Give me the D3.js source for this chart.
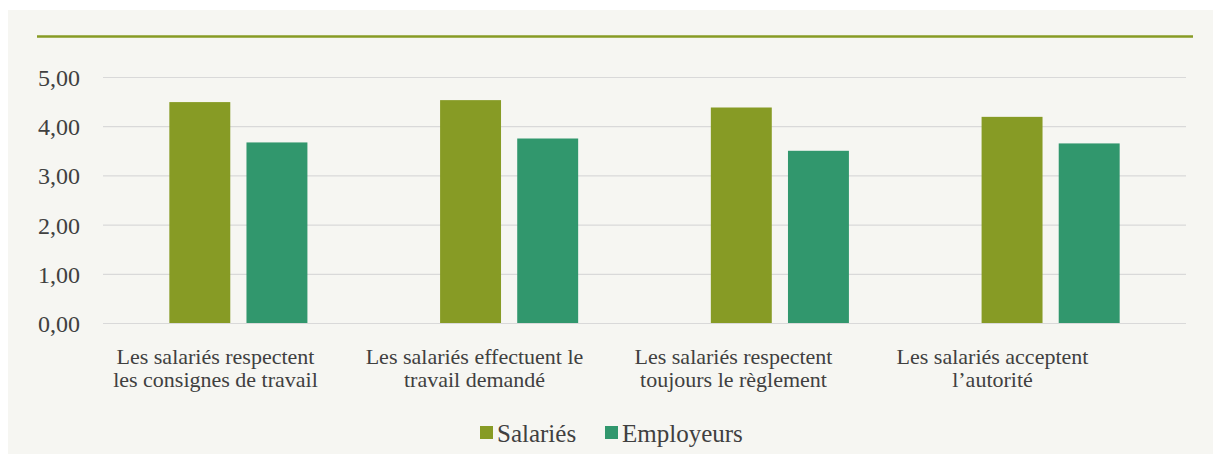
<!DOCTYPE html>
<html>
<head>
<meta charset="utf-8">
<script src="https://d3js.org/d3.v7.min.js"></script>
<style>
  body { margin: 0; background: #fff; }
  svg { display: block; }
</style>
</head>
<body>
<svg id="chart" width="1213" height="454"></svg>
<script>
// data
const categories = [
  ["Les salariés respectent", "les consignes de travail"],
  ["Les salariés effectuent le", "travail demandé"],
  ["Les salariés respectent", "toujours le règlement"],
  ["Les salariés acceptent", "l\u2019autorité"]
];
const seriesNames = ["Salariés", "Employeurs"];
const salaries = [4.49, 4.53, 4.38, 4.19];
const employeurs = [3.67, 3.75, 3.50, 3.65];
const yTicks = [0, 1, 2, 3, 4, 5];
const colors = ["#879b25", "#31976d"];

const serif = "Liberation Serif";
const ink = "#404040";

const svg = d3.select("#chart").attr("font-family", serif);
const W = 1213, H = 454;

// paper background
svg.append("rect").attr("x", 8).attr("y", 10).attr("width", W - 8).attr("height", H - 10)
  .attr("fill", "#f6f6f2");

// green rule at the top
svg.append("line").attr("x1", 37).attr("x2", 1193).attr("y1", 36.5).attr("y2", 36.5)
  .attr("stroke", "#879b25").attr("stroke-width", 2.5);

const plot = { left: 103, right: 1186, top: 77, bottom: 323 };

const y = d3.scaleLinear().domain([0, 5]).range([plot.bottom, plot.top]);
const x0 = d3.scaleBand().domain(d3.range(categories.length)).range([plot.left, plot.right]);
const x1 = d3.scaleBand().domain(seriesNames).range([0, x0.bandwidth()])
  .paddingInner(0.21).paddingOuter(0.86);
const color = d3.scaleOrdinal().domain(seriesNames).range(colors);

// gridlines + tick labels
const yAxis = d3.axisLeft(y).tickValues(yTicks)
  .tickSize(-(plot.right - plot.left))
  .tickFormat(d => d3.format(".2f")(d).replace(".", ","));
const gy = svg.append("g").attr("transform", `translate(${plot.left},0)`).call(yAxis);
gy.attr("font-family", serif).attr("font-size", 24);
gy.select(".domain").remove();
gy.selectAll(".tick line").attr("stroke", "#d9d9d9").attr("stroke-width", 1.2);
gy.selectAll(".tick text").attr("x", -23).attr("dy", "0.35em").attr("fill", ink);

// bars
const rows = categories.map((c, i) => ({ i, values: [salaries[i], employeurs[i]] }));
const groups = svg.append("g").selectAll("g").data(rows).join("g")
  .attr("transform", d => `translate(${x0(d.i)},0)`);
groups.selectAll("rect")
  .data(d => d.values.map((v, k) => ({ key: seriesNames[k], v })))
  .join("rect")
  .attr("x", d => x1(d.key))
  .attr("width", x1.bandwidth())
  .attr("y", d => y(d.v))
  .attr("height", d => y(0) - y(d.v))
  .attr("fill", d => color(d.key));

// category labels (sit a little left of their bars in the original)
const xl = d3.scaleBand().domain(d3.range(categories.length)).range([86, 1122]);
const labels = svg.append("g").selectAll("text").data(categories).join("text")
  .attr("text-anchor", "middle")
  .attr("font-family", serif)
  .attr("font-size", 22)
  .attr("fill", ink);
labels.selectAll("tspan").data((d, i) => d.map(s => ({ s, i }))).join("tspan")
  .attr("x", d => xl(d.i) + xl.bandwidth() / 2)
  .attr("y", (d, k) => 364 + k * 23)
  .text(d => d.s);

// legend
const legend = svg.append("g").attr("transform", "translate(480,433)");
const lx = [0, 125];
seriesNames.forEach((name, k) => {
  const g = legend.append("g").attr("transform", `translate(${lx[k]},0)`);
  g.append("rect").attr("x", 0).attr("y", -7).attr("width", 13).attr("height", 13)
    .attr("fill", color(name));
  g.append("text").attr("x", 17).attr("y", 0).attr("dy", "0.35em")
    .attr("font-family", serif).attr("font-size", 25)
    .attr("fill", ink).text(name);
});
</script>
</body>
</html>
